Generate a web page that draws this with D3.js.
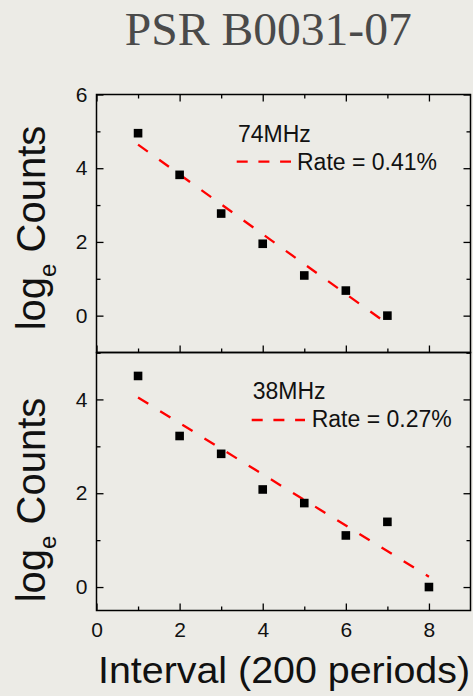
<!DOCTYPE html>
<html>
<head>
<meta charset="utf-8">
<script src="https://cdn.jsdelivr.net/npm/d3@7"></script>
<style>
  html, body { margin: 0; padding: 0; background: #ecebe6; }
  svg { display: block; }
</style>
</head>
<body>
<script>
// ---- data ----
const title = "PSR B0031-07";
const xTickValues = [0, 2, 4, 6, 8];
const xMinorTicks = [1, 3, 5, 7];

// 74 MHz panel
const intervals74 = [1, 2, 3, 4, 5, 6, 7];
const logCounts74 = [4.95, 3.82, 2.77, 1.95, 1.09, 0.68, 0.0];
const fitX74 = [1, 7];
const fitY74 = [4.64, -0.22];
const yTicks74 = [0, 2, 4, 6];
const yMinor74 = [-1, 1, 3, 5];

// 38 MHz panel
const intervals38 = [1, 2, 3, 4, 5, 6, 7, 8];
const logCounts38 = [4.50, 3.22, 2.84, 2.08, 1.79, 1.10, 1.39, 0.0];
const fitX38 = [1, 8];
const fitY38 = [4.04, 0.22];
const yTicks38 = [0, 2, 4];
const yMinor38 = [1, 3, 5];

const bandLabels = ["74MHz", "38MHz"];
const rateLabels = ["Rate = 0.41%", "Rate = 0.27%"];
const yAxisTitle = ["log", "e", " Counts"];
const xAxisTitle = "Interval (200 periods)";

// ---- layout ----
const W = 473, H = 696;
const left = 96.5, right = 470.5;
const sansFont = "'Liberation Sans', Arial, Helvetica, sans-serif";

const svg = d3.select("body").append("svg")
  .attr("width", W).attr("height", H);

svg.append("rect").attr("width", W).attr("height", H).attr("fill", "#ecebe6");

svg.append("text")
  .attr("x", 268.3).attr("y", 45)
  .attr("text-anchor", "middle")
  .attr("font-family", "'Liberation Serif', 'DejaVu Serif', serif")
  .attr("font-size", 46)
  .attr("fill", "#4a4a4a")
  .attr("textLength", 287)
  .attr("lengthAdjust", "spacingAndGlyphs")
  .text(title);

const x = d3.scaleLinear().domain([0, 9]).range([left, right]);

const panels = [
  { top: 94.5, bottom: 352.5, domain: [-1, 6], xs: intervals74, ys: logCounts74,
    fitX: fitX74, fitY: fitY74, ticks: yTicks74, minor: yMinor74,
    band: bandLabels[0], rate: rateLabels[0], showX: false,
    bandPos: [238, 142.3], dash: [236.7, 291, 161.7], ratePos: [297, 170],
    titleY: 228 },
  { top: 352.5, bottom: 610.5, domain: [-0.5, 5], xs: intervals38, ys: logCounts38,
    fitX: fitX38, fitY: fitY38, ticks: yTicks38, minor: yMinor38,
    band: bandLabels[1], rate: rateLabels[1], showX: true,
    bandPos: [252.7, 399.3], dash: [251.7, 305, 420], ratePos: [311.7, 427.3],
    titleY: 500 }
];

function styleAxis(g) {
  g.selectAll("path").remove();
  g.selectAll("line").attr("stroke", "#000").attr("stroke-width", 1.3);
  g.selectAll("text").attr("font-family", sansFont).attr("font-size", 21).attr("fill", "#111");
}

panels.forEach((p, i) => {
  const y = d3.scaleLinear().domain(p.domain).range([p.bottom, p.top]);
  const g = svg.append("g");

  // left axis (labels) + minor ticks
  g.append("g").attr("transform", `translate(${left},0)`)
    .call(d3.axisLeft(y).tickValues(p.ticks).tickSize(-7).tickPadding(9).tickFormat(d3.format("d")))
    .call(styleAxis);
  g.append("g").attr("transform", `translate(${left},0)`)
    .call(d3.axisLeft(y).tickValues(p.minor).tickSize(-4).tickFormat(""))
    .call(styleAxis);
  // right axis ticks
  g.append("g").attr("transform", `translate(${right},0)`)
    .call(d3.axisRight(y).tickValues(p.ticks).tickSize(-7).tickFormat(""))
    .call(styleAxis);
  g.append("g").attr("transform", `translate(${right},0)`)
    .call(d3.axisRight(y).tickValues(p.minor).tickSize(-4).tickFormat(""))
    .call(styleAxis);

  // bottom axis ticks (pointing inward), labels only on lower panel
  const bottomAxis = d3.axisBottom(x).tickValues(xTickValues).tickSize(-7).tickPadding(11.6);
  if (!p.showX) bottomAxis.tickFormat("");
  g.append("g").attr("transform", `translate(0,${p.bottom})`)
    .call(bottomAxis).call(styleAxis);
  g.append("g").attr("transform", `translate(0,${p.bottom})`)
    .call(d3.axisBottom(x).tickValues(xMinorTicks).tickSize(-4).tickFormat(""))
    .call(styleAxis);

  // top axis ticks only for the upper panel
  if (i === 0) {
    g.append("g").attr("transform", `translate(0,${p.top})`)
      .call(d3.axisTop(x).tickValues(xTickValues).tickSize(-7).tickFormat(""))
      .call(styleAxis);
    g.append("g").attr("transform", `translate(0,${p.top})`)
      .call(d3.axisTop(x).tickValues(xMinorTicks).tickSize(-4).tickFormat(""))
      .call(styleAxis);
  }

  // frame
  g.append("rect")
    .attr("x", left).attr("y", p.top)
    .attr("width", right - left).attr("height", p.bottom - p.top)
    .attr("fill", "none").attr("stroke", "#000").attr("stroke-width", 1.5);

  // fitted line
  const fitPts = p.fitX.map((d, k) => [d, p.fitY[k]]);
  g.append("path")
    .attr("d", d3.line().x(d => x(d[0])).y(d => y(d[1]))(fitPts))
    .attr("fill", "none").attr("stroke", "#ff0000").attr("stroke-width", 2.3)
    .attr("stroke-dasharray", "12,14");

  // data markers
  const s = 8.6;
  g.selectAll("rect.pt").data(p.xs.map((d, k) => [d, p.ys[k]])).join("rect")
    .attr("class", "pt")
    .attr("x", d => x(d[0]) - s / 2).attr("y", d => y(d[1]) - s / 2)
    .attr("width", s).attr("height", s).attr("fill", "#000");

  // legend
  g.append("text").attr("x", p.bandPos[0]).attr("y", p.bandPos[1])
    .attr("font-family", sansFont).attr("font-size", 23).attr("fill", "#111")
    .text(p.band);
  g.append("line")
    .attr("x1", p.dash[0]).attr("x2", p.dash[1]).attr("y1", p.dash[2]).attr("y2", p.dash[2])
    .attr("stroke", "#ff0000").attr("stroke-width", 2.3).attr("stroke-dasharray", "11,10.7");
  g.append("text").attr("x", p.ratePos[0]).attr("y", p.ratePos[1])
    .attr("font-family", sansFont).attr("font-size", 23).attr("fill", "#111")
    .text(p.rate);

  // y axis title
  const t = svg.append("text")
    .attr("transform", `translate(45,${p.titleY}) rotate(-90)`)
    .attr("text-anchor", "middle")
    .attr("font-family", sansFont).attr("font-size", 40).attr("fill", "#111");
  t.append("tspan").text(yAxisTitle[0]);
  t.append("tspan").attr("font-size", 24).attr("dy", 11).text(yAxisTitle[1]);
  t.append("tspan").attr("dy", -11).text(yAxisTitle[2]);
});

// x axis title
svg.append("text")
  .attr("x", 98).attr("y", 682.7)
  .attr("font-family", sansFont).attr("font-size", 37).attr("fill", "#111")
  .attr("textLength", 372).attr("lengthAdjust", "spacingAndGlyphs")
  .text(xAxisTitle);
</script>
</body>
</html>
